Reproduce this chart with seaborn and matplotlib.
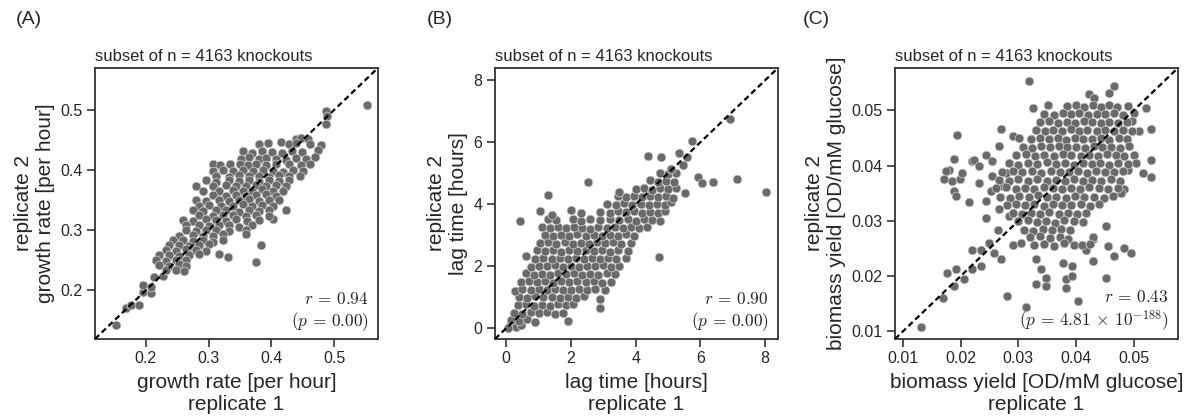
import pandas as pd
import matplotlib
matplotlib.use("Agg")
import matplotlib.pyplot as plt
import seaborn as sns

# ---------------- data ----------------
panel_letters = ["(A)", "(B)", "(C)"]
subset_title = "subset of n = 4163 knockouts"
x_labels = ["growth rate [per hour]\nreplicate 1",
            "lag time [hours]\nreplicate 1",
            "biomass yield [OD/mM glucose]\nreplicate 1"]
y_labels = ["replicate 2\ngrowth rate [per hour]",
            "replicate 2\nlag time [hours]",
            "replicate 2\nbiomass yield [OD/mM glucose]"]
r_labels = ["0.94", "0.90", "0.43"]
p_labels = ["0.00", "0.00", r"4.81\,\times\,10^{-188}"]
ticks = [[0.2, 0.3, 0.4, 0.5],
         [0, 2, 4, 6, 8],
         [0.01, 0.02, 0.03, 0.04, 0.05]]
tick_labels = [["0.2", "0.3", "0.4", "0.5"],
               ["0", "2", "4", "6", "8"],
               ["0.01", "0.02", "0.03", "0.04", "0.05"]]
limits = [(0.119, 0.570), (-0.35, 8.4), (0.0086, 0.0577)]

# (replicate 1, replicate 2)
growth_rate_points = [
    (0.552, 0.508), (0.488, 0.499), (0.489, 0.490), (0.488, 0.476), (0.480, 0.441), (0.475, 0.433),
    (0.152, 0.142), (0.168, 0.170), (0.176, 0.175), (0.189, 0.176), (0.195, 0.197), (0.208, 0.195),
    (0.196, 0.208), (0.209, 0.206), (0.213, 0.222), (0.227, 0.223),
    (0.331, 0.255), (0.376, 0.247), (0.384, 0.275), (0.317, 0.260), (0.424, 0.333), (0.402, 0.319),
    (0.440, 0.452), (0.448, 0.454), (0.459, 0.451),
    (0.380, 0.444), (0.394, 0.445), (0.416, 0.446), (0.429, 0.443), (0.440, 0.445), (0.461, 0.443),
    (0.355, 0.431), (0.369, 0.429), (0.385, 0.431), (0.401, 0.430), (0.417, 0.428), (0.433, 0.431), (0.449, 0.430),
    (0.352, 0.419), (0.365, 0.421), (0.381, 0.418), (0.391, 0.420), (0.407, 0.419), (0.423, 0.417),
    (0.440, 0.420), (0.456, 0.418), (0.469, 0.421),
    (0.307, 0.410), (0.318, 0.408), (0.334, 0.410), (0.350, 0.411), (0.363, 0.409), (0.376, 0.410),
    (0.392, 0.408), (0.408, 0.411), (0.429, 0.410), (0.448, 0.409), (0.461, 0.411),
    (0.307, 0.399), (0.323, 0.401), (0.339, 0.398), (0.355, 0.400), (0.371, 0.398), (0.387, 0.401),
    (0.403, 0.399), (0.419, 0.397), (0.435, 0.400), (0.451, 0.398),
    (0.312, 0.391), (0.333, 0.389), (0.349, 0.392), (0.365, 0.390), (0.381, 0.391), (0.397, 0.389),
    (0.413, 0.392), (0.429, 0.390), (0.445, 0.391),
    (0.296, 0.383), (0.312, 0.381), (0.333, 0.384), (0.349, 0.382), (0.365, 0.383), (0.381, 0.381),
    (0.397, 0.384), (0.413, 0.382), (0.429, 0.383),
    (0.280, 0.374), (0.307, 0.373), (0.328, 0.375), (0.344, 0.373), (0.360, 0.374), (0.376, 0.376),
    (0.392, 0.373), (0.408, 0.375), (0.424, 0.374),
    (0.291, 0.366), (0.317, 0.365), (0.339, 0.367), (0.355, 0.365), (0.370, 0.366), (0.386, 0.368),
    (0.402, 0.365), (0.418, 0.366),
    (0.307, 0.358), (0.328, 0.357), (0.344, 0.359), (0.360, 0.357), (0.376, 0.358), (0.392, 0.360),
    (0.408, 0.357),
    (0.280, 0.350), (0.296, 0.349), (0.317, 0.351), (0.333, 0.349), (0.349, 0.350), (0.365, 0.352),
    (0.381, 0.349), (0.397, 0.350), (0.413, 0.351),
    (0.285, 0.341), (0.301, 0.342), (0.320, 0.340), (0.339, 0.341), (0.355, 0.343), (0.370, 0.340),
    (0.386, 0.342), (0.402, 0.341),
    (0.275, 0.333), (0.291, 0.332), (0.312, 0.334), (0.328, 0.333), (0.349, 0.331), (0.365, 0.334),
    (0.381, 0.332), (0.397, 0.333),
    (0.285, 0.325), (0.307, 0.324), (0.323, 0.326), (0.339, 0.325), (0.360, 0.323), (0.376, 0.326),
    (0.397, 0.324),
    (0.259, 0.317), (0.275, 0.316), (0.296, 0.318), (0.312, 0.317), (0.328, 0.315), (0.344, 0.318),
    (0.362, 0.316), (0.381, 0.317),
    (0.264, 0.308), (0.285, 0.309), (0.301, 0.307), (0.317, 0.309), (0.333, 0.308), (0.349, 0.306),
    (0.370, 0.309),
    (0.264, 0.300), (0.280, 0.299), (0.296, 0.301), (0.312, 0.300), (0.333, 0.298), (0.360, 0.300),
    (0.253, 0.291), (0.275, 0.292), (0.291, 0.290), (0.307, 0.291), (0.323, 0.293), (0.360, 0.294),
    (0.243, 0.283), (0.259, 0.284), (0.275, 0.282), (0.291, 0.283), (0.307, 0.281), (0.323, 0.284),
    (0.237, 0.275), (0.253, 0.276), (0.269, 0.274), (0.285, 0.275), (0.301, 0.277),
    (0.232, 0.267), (0.248, 0.266), (0.264, 0.268), (0.280, 0.267), (0.296, 0.265),
    (0.221, 0.258), (0.237, 0.259), (0.253, 0.257), (0.269, 0.258), (0.285, 0.260),
    (0.216, 0.250), (0.232, 0.249), (0.248, 0.251), (0.264, 0.250),
    (0.221, 0.242), (0.237, 0.241), (0.253, 0.243), (0.264, 0.240),
    (0.232, 0.233), (0.248, 0.234), (0.261, 0.232),
]

lag_time_points = [
    (0.10, 0.08), (0.30, 0.03), (0.45, 0.10), (0.05, 0.02),
    (0.15, 0.27), (0.40, 0.22), (0.65, 0.28), (0.90, 0.21), (1.92, 0.24),
    (0.25, 0.50), (0.50, 0.46), (0.75, 0.53), (1.00, 0.48), (1.25, 0.52), (1.50, 0.47), (1.75, 0.50),
    (0.35, 0.74), (0.60, 0.78), (0.85, 0.72), (1.10, 0.76), (1.35, 0.73), (1.60, 0.77), (1.85, 0.74),
    (2.05, 0.79), (2.90, 0.65),
    (0.40, 1.00), (0.65, 0.97), (0.90, 1.03), (1.15, 0.99), (1.40, 1.02), (1.65, 0.98), (1.90, 1.01),
    (2.15, 0.97), (2.40, 1.03), (2.90, 0.95),
    (0.26, 1.19), (0.50, 1.27), (0.75, 1.23), (1.00, 1.26), (1.25, 1.22), (1.50, 1.27), (1.75, 1.24),
    (2.00, 1.22), (2.25, 1.27), (2.50, 1.23), (2.75, 1.26), (3.05, 1.22),
    (0.45, 1.48), (0.70, 1.52), (0.95, 1.49), (1.20, 1.53), (1.45, 1.47), (1.70, 1.51), (1.95, 1.48),
    (2.20, 1.52), (2.45, 1.49), (2.70, 1.53), (2.95, 1.47), (3.25, 1.50),
    (0.60, 1.77), (0.85, 1.73), (1.10, 1.76), (1.35, 1.72), (1.60, 1.78), (1.85, 1.74), (2.10, 1.77),
    (2.35, 1.73), (2.60, 1.76), (2.85, 1.72), (3.10, 1.77), (3.35, 1.74),
    (0.75, 1.98), (1.00, 2.02), (1.25, 1.99), (1.50, 2.03), (1.75, 1.97), (2.00, 2.01), (2.25, 1.98),
    (2.50, 2.02), (2.75, 1.99), (3.00, 2.03), (3.25, 1.98), (3.50, 2.01),
    (0.62, 2.33), (0.90, 2.24), (1.15, 2.27), (1.40, 2.23), (1.65, 2.28), (1.90, 2.24), (2.15, 2.27),
    (2.40, 2.22), (2.65, 2.26), (2.90, 2.23), (3.15, 2.28), (3.40, 2.24), (3.70, 2.26), (4.72, 2.29),
    (0.95, 2.52), (1.20, 2.48), (1.45, 2.51), (1.70, 2.47), (1.95, 2.52), (2.20, 2.49), (2.45, 2.53),
    (2.70, 2.48), (2.95, 2.51), (3.20, 2.47), (3.45, 2.52), (3.75, 2.49),
    (1.05, 2.74), (1.30, 2.78), (1.55, 2.73), (1.80, 2.77), (2.05, 2.72), (2.30, 2.76), (2.55, 2.73),
    (2.80, 2.78), (3.05, 2.74), (3.30, 2.77), (3.55, 2.73), (3.85, 2.76),
    (1.20, 3.02), (1.45, 2.98), (1.70, 3.01), (1.95, 2.97), (2.20, 3.03), (2.45, 2.99), (2.70, 3.02),
    (2.95, 2.98), (3.20, 3.01), (3.45, 2.97), (3.70, 3.03), (3.95, 2.99),
    (1.10, 3.27), (1.35, 3.23), (1.60, 3.26), (1.85, 3.22), (2.10, 3.27), (2.35, 3.24), (2.60, 3.21),
    (2.85, 3.26), (3.10, 3.23), (3.35, 3.27), (3.60, 3.22), (3.85, 3.26), (4.10, 3.23), (4.35, 3.27),
    (0.41, 3.46), (1.30, 3.52), (1.55, 3.48), (2.05, 3.51), (2.30, 3.47), (2.60, 3.52), (2.90, 3.49),
    (3.20, 3.53), (3.50, 3.48), (3.75, 3.52), (4.00, 3.47), (4.25, 3.51), (4.50, 3.48), (4.75, 3.46),
    (1.04, 3.78), (1.40, 3.65), (2.00, 3.81), (2.30, 3.72), (2.90, 3.76), (3.20, 3.73), (3.45, 3.78),
    (3.70, 3.74), (3.95, 3.77), (4.20, 3.72), (4.45, 3.76), (4.70, 3.73), (4.90, 3.78),
    (3.10, 4.02), (3.40, 3.98), (3.65, 4.03), (3.90, 3.99), (4.15, 4.02), (4.40, 3.97), (4.65, 4.01),
    (4.90, 3.98), (5.08, 4.08),
    (1.30, 4.30), (3.45, 4.27), (3.70, 4.23), (3.95, 4.26), (4.20, 4.22), (4.45, 4.27), (4.70, 4.24),
    (4.95, 4.26), (5.15, 4.21),
    (3.47, 4.40), (4.00, 4.48), (4.25, 4.52), (4.50, 4.47), (4.75, 4.51), (5.00, 4.48), (5.25, 4.53),
    (5.54, 4.35), (8.03, 4.40),
    (2.54, 4.73), (4.45, 4.77), (4.70, 4.72), (4.95, 4.76), (5.20, 4.73), (5.94, 4.87), (6.06, 4.68),
    (6.40, 4.73), (7.13, 4.81),
    (4.75, 5.01), (5.00, 4.97), (5.25, 5.02), (5.10, 5.15), (5.47, 5.27),
    (4.37, 5.56), (4.77, 5.54), (5.34, 5.65), (5.60, 5.54), (5.75, 6.03), (6.92, 6.76),
]

biomass_yield_points = [
    # sparse points around the cloud
    (0.0131, 0.0108), (0.0169, 0.0160), (0.0281, 0.0163), (0.0313, 0.0144), (0.0403, 0.0154), (0.0452, 0.0197),
    (0.0177, 0.0205), (0.0191, 0.0213), (0.0189, 0.0182), (0.0206, 0.0194), (0.0220, 0.0212), (0.0235, 0.0218),
    (0.0220, 0.0247), (0.0235, 0.0247), (0.0249, 0.0260), (0.0258, 0.0241), (0.0270, 0.0230), (0.0264, 0.0284),
    (0.0244, 0.0305),
    (0.0319, 0.0553), (0.0466, 0.0545), (0.0458, 0.0532), (0.0423, 0.0529), (0.0432, 0.0523), (0.0325, 0.0504),
    (0.0351, 0.0509), (0.0521, 0.0504), (0.0530, 0.0467), (0.0530, 0.0411), (0.0530, 0.0379), (0.0510, 0.0463),
    (0.0501, 0.0496), (0.0498, 0.0481), (0.0490, 0.0393), (0.0501, 0.0420), (0.0484, 0.0357), (0.0516, 0.0387),
    (0.0505, 0.0405), (0.0478, 0.0350),
    (0.0193, 0.0455), (0.0189, 0.0412), (0.0180, 0.0393), (0.0171, 0.0375), (0.0185, 0.0372), (0.0199, 0.0376),
    (0.0189, 0.0354), (0.0191, 0.0345), (0.0215, 0.0334), (0.0220, 0.0408), (0.0203, 0.0387), (0.0174, 0.0390),
    (0.0270, 0.0466), (0.0290, 0.0453), (0.0301, 0.0450), (0.0267, 0.0435), (0.0244, 0.0420), (0.0255, 0.0408),
    (0.0223, 0.0411), (0.0232, 0.0399), (0.0255, 0.0381), (0.0278, 0.0387), (0.0232, 0.0369), (0.0252, 0.0354),
    (0.0273, 0.0363), (0.0244, 0.0336), (0.0267, 0.0321), (0.0284, 0.0308),
    (0.0330, 0.0230), (0.0339, 0.0212), (0.0330, 0.0185), (0.0348, 0.0182), (0.0382, 0.0194), (0.0394, 0.0200),
    (0.0377, 0.0224), (0.0394, 0.0218), (0.0382, 0.0179), (0.0348, 0.0197), (0.0429, 0.0227), (0.0429, 0.0267),
    (0.0417, 0.0248), (0.0455, 0.0254), (0.0466, 0.0236), (0.0484, 0.0251), (0.0495, 0.0242), (0.0452, 0.0290),
    # dense core
    (0.0385, 0.0508), (0.0400, 0.0510), (0.0414, 0.0506), (0.0429, 0.0509), (0.0443, 0.0507), (0.0458, 0.0510),
    (0.0472, 0.0506), (0.0490, 0.0508),
    (0.0345, 0.0494), (0.0362, 0.0492), (0.0377, 0.0495), (0.0391, 0.0493), (0.0406, 0.0496), (0.0421, 0.0492),
    (0.0436, 0.0494), (0.0451, 0.0493), (0.0466, 0.0495), (0.0481, 0.0492),
    (0.0338, 0.0479), (0.0353, 0.0481), (0.0369, 0.0478), (0.0384, 0.0480), (0.0398, 0.0477), (0.0414, 0.0481),
    (0.0428, 0.0479), (0.0443, 0.0478), (0.0458, 0.0480), (0.0473, 0.0477), (0.0488, 0.0479),
    (0.0330, 0.0464), (0.0346, 0.0462), (0.0361, 0.0465), (0.0376, 0.0463), (0.0391, 0.0466), (0.0406, 0.0463),
    (0.0420, 0.0464), (0.0436, 0.0462), (0.0451, 0.0465), (0.0466, 0.0463), (0.0482, 0.0464), (0.0497, 0.0462),
    (0.0322, 0.0449), (0.0338, 0.0451), (0.0353, 0.0448), (0.0368, 0.0450), (0.0383, 0.0447), (0.0398, 0.0451),
    (0.0413, 0.0449), (0.0428, 0.0448), (0.0443, 0.0450), (0.0458, 0.0447), (0.0474, 0.0450), (0.0489, 0.0448),
    (0.0308, 0.0434), (0.0324, 0.0432), (0.0340, 0.0435), (0.0355, 0.0433), (0.0370, 0.0436), (0.0385, 0.0433),
    (0.0400, 0.0434), (0.0415, 0.0432), (0.0431, 0.0435), (0.0446, 0.0433), (0.0461, 0.0434), (0.0477, 0.0432),
    (0.0492, 0.0435),
    (0.0296, 0.0419), (0.0313, 0.0421), (0.0329, 0.0418), (0.0345, 0.0420), (0.0362, 0.0417), (0.0377, 0.0421),
    (0.0392, 0.0419), (0.0408, 0.0418), (0.0423, 0.0420), (0.0438, 0.0417), (0.0454, 0.0421), (0.0469, 0.0419),
    (0.0484, 0.0418),
    (0.0283, 0.0404), (0.0300, 0.0402), (0.0316, 0.0405), (0.0333, 0.0403), (0.0349, 0.0406), (0.0366, 0.0403),
    (0.0381, 0.0404), (0.0396, 0.0402), (0.0412, 0.0405), (0.0427, 0.0403), (0.0442, 0.0404), (0.0458, 0.0402),
    (0.0473, 0.0405), (0.0490, 0.0403),
    (0.0272, 0.0389), (0.0290, 0.0391), (0.0307, 0.0388), (0.0324, 0.0390), (0.0340, 0.0387), (0.0356, 0.0391),
    (0.0372, 0.0389), (0.0388, 0.0388), (0.0404, 0.0390), (0.0419, 0.0387), (0.0435, 0.0391), (0.0450, 0.0389),
    (0.0466, 0.0388), (0.0482, 0.0390),
    (0.0266, 0.0374), (0.0283, 0.0372), (0.0300, 0.0375), (0.0317, 0.0373), (0.0333, 0.0376), (0.0349, 0.0373),
    (0.0365, 0.0374), (0.0381, 0.0372), (0.0397, 0.0375), (0.0412, 0.0373), (0.0428, 0.0374), (0.0444, 0.0372),
    (0.0460, 0.0375), (0.0477, 0.0373),
    (0.0262, 0.0359), (0.0279, 0.0361), (0.0296, 0.0358), (0.0312, 0.0360), (0.0328, 0.0357), (0.0344, 0.0361),
    (0.0360, 0.0359), (0.0376, 0.0358), (0.0392, 0.0360), (0.0407, 0.0357), (0.0423, 0.0361), (0.0440, 0.0359),
    (0.0456, 0.0358), (0.0473, 0.0360),
    (0.0268, 0.0344), (0.0285, 0.0342), (0.0302, 0.0345), (0.0318, 0.0343), (0.0334, 0.0346), (0.0350, 0.0343),
    (0.0366, 0.0344), (0.0382, 0.0342), (0.0398, 0.0345), (0.0414, 0.0343), (0.0431, 0.0344), (0.0448, 0.0342),
    (0.0465, 0.0345),
    (0.0280, 0.0329), (0.0296, 0.0331), (0.0312, 0.0328), (0.0328, 0.0330), (0.0344, 0.0327), (0.0360, 0.0331),
    (0.0376, 0.0329), (0.0392, 0.0328), (0.0408, 0.0330), (0.0424, 0.0327), (0.0440, 0.0331),
    (0.0290, 0.0314), (0.0306, 0.0312), (0.0322, 0.0315), (0.0338, 0.0313), (0.0354, 0.0316), (0.0370, 0.0313),
    (0.0386, 0.0314), (0.0402, 0.0312), (0.0418, 0.0315),
    (0.0300, 0.0299), (0.0316, 0.0301), (0.0332, 0.0298), (0.0348, 0.0300), (0.0364, 0.0297), (0.0380, 0.0301),
    (0.0396, 0.0299), (0.0412, 0.0298),
    (0.0310, 0.0284), (0.0326, 0.0282), (0.0342, 0.0285), (0.0358, 0.0283), (0.0374, 0.0286), (0.0390, 0.0283),
    (0.0320, 0.0270), (0.0338, 0.0272), (0.0355, 0.0269), (0.0372, 0.0271), (0.0386, 0.0268), (0.0430, 0.0271),
    (0.0290, 0.0257), (0.0304, 0.0259), (0.0327, 0.0256), (0.0345, 0.0258), (0.0362, 0.0255), (0.0380, 0.0259),
    (0.0396, 0.0257), (0.0410, 0.0256), (0.0424, 0.0258),
]

panel_points = [growth_rate_points, lag_time_points, biomass_yield_points]

# ---------------- styling ----------------
sns.set_theme(style="ticks")
plt.rcParams["font.family"] = ["Liberation Sans", "DejaVu Sans"]
plt.rcParams["mathtext.fontset"] = "cm"

dot_color = "#6a6a6a"
frame_color = "#333333"

fig = plt.figure(figsize=(11.93, 4.19), dpi=100)
axes_left = [0.0796, 0.4149, 0.7502]
letter_x = [0.013, 0.358, 0.673]

for i in range(3):
    ax = fig.add_axes([axes_left[i], 0.191, 0.2372, 0.6468])
    df = pd.DataFrame(panel_points[i], columns=["replicate_1", "replicate_2"])

    sns.scatterplot(data=df, x="replicate_1", y="replicate_2", ax=ax,
                    s=40, color=dot_color, edgecolor="#d0d0d0", linewidth=0.5,
                    zorder=2)

    lo, hi = limits[i]
    ax.set_xlim(lo, hi)
    ax.set_ylim(lo, hi)
    ax.axline((lo, lo), slope=1, color="black", lw=1.6,
              ls=(0, (2.6, 1.6)), zorder=3)

    ax.set_xticks(ticks[i])
    ax.set_xticklabels(tick_labels[i])
    ax.set_yticks(ticks[i])
    ax.set_yticklabels(tick_labels[i])
    ax.tick_params(axis="both", direction="out", length=6, width=1.2,
                   color=frame_color, labelsize=11.5, pad=3,
                   labelcolor="#262626")
    for sp in ax.spines.values():
        sp.set_visible(True)
        sp.set_color(frame_color)
        sp.set_linewidth(1.3)

    ax.set_xlabel(x_labels[i], fontsize=15, color="#262626", labelpad=5)
    ax.set_ylabel(y_labels[i], fontsize=15, color="#262626", labelpad=4)
    ax.set_title(subset_title, loc="left", fontsize=12, pad=5, color="#262626")

    stats = (r"$r\,=\," + r_labels[i] + "$\n"
             + r"$(p\,=\," + p_labels[i] + ")$")
    ax.text(0.968, 0.022, stats, transform=ax.transAxes, ha="right",
            va="bottom", fontsize=12.5, multialignment="right", color="#262626")

    fig.text(letter_x[i], 0.953, panel_letters[i], fontsize=14,
             ha="left", va="center", color="#262626")

fig.savefig("out.png", dpi=100)
